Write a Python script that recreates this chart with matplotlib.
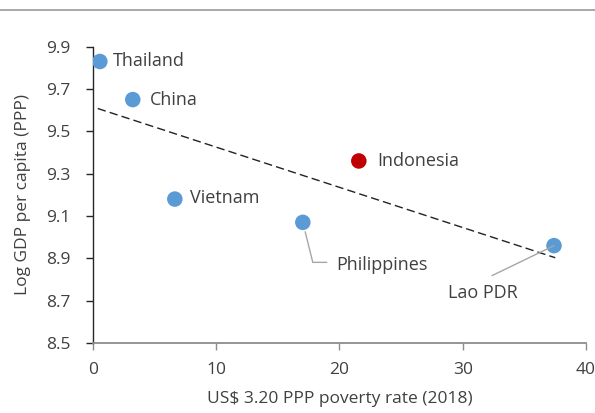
import numpy as np
import matplotlib.pyplot as plt
from matplotlib.lines import Line2D

plt.rcParams['font.family'] = ['Open Sans', 'DejaVu Sans']

# данные
countries = ['Thailand', 'China', 'Vietnam', 'Indonesia', 'Philippines', 'Lao PDR']
poverty = np.array([0.57, 3.24, 6.65, 21.57, 17.03, 37.4])   # US$3.20 PPP poverty rate, %
log_gdp = np.array([9.83, 9.65, 9.18, 9.36, 9.07, 8.96])     # log GDP per capita (PPP)
colors = ['#5B9BD5', '#5B9BD5', '#5B9BD5', '#C00000', '#5B9BD5', '#5B9BD5']

# положение подписей (смещение в пикселях от точки)
label_off = {'Thailand': (13, 0), 'China': (17, 0), 'Vietnam': (15, 1),
             'Indonesia': (18, 0), 'Philippines': (33, -43), 'Lao PDR': (-106, -47)}

txt = '#404040'

fig = plt.figure(figsize=(5.95, 4.13), dpi=100)
ax = fig.add_axes([0.156, 0.1695, 0.829, 0.7175])

# линия тренда
k, b = np.polyfit(poverty, log_gdp, 1)
xs = np.array([poverty.min() - 0.17, poverty.max() + 0.1])
ax.plot(xs, k * xs + b, color='#222222', lw=1.0, dashes=(6, 3), zorder=2)

ax.scatter(poverty, log_gdp, s=125, c=colors, zorder=3, linewidths=0)

for name, x, y in zip(countries, poverty, log_gdp):
    dx, dy = label_off[name]
    ax.annotate(name, (x, y), xytext=(dx, dy), textcoords='offset pixels',
                ha='left', va='center', fontsize=13, color=txt, zorder=5)

# выноски
ax.annotate('', xy=(poverty[4], log_gdp[4]), xytext=(24, -40), textcoords='offset pixels',
            arrowprops=dict(arrowstyle='-', color='#A6A6A6', lw=1.0, shrinkA=0, shrinkB=7,
                            connectionstyle='angle,angleA=0,angleB=-76,rad=0'), zorder=2)
ax.annotate('', xy=(poverty[5], log_gdp[5]), xytext=(-62, -30), textcoords='offset pixels',
            arrowprops=dict(arrowstyle='-', color='#A6A6A6', lw=1.0, shrinkA=0, shrinkB=0),
            zorder=4)

ax.set_xlim(0, 40)
ax.set_ylim(8.5, 9.9)
ax.set_xticks([0, 10, 20, 30, 40])
ax.set_yticks(np.arange(8.5, 9.91, 0.2))
ax.set_yticklabels([f'{v:.1f}' for v in np.arange(8.5, 9.91, 0.2)])

for s in ['top', 'right']:
    ax.spines[s].set_visible(False)
ax.spines['left'].set_color('#262626')
ax.spines['bottom'].set_color('#8C8C8C')
ax.spines['left'].set_linewidth(1.0)
ax.spines['bottom'].set_linewidth(1.3)
ax.tick_params(axis='y', direction='out', length=5, width=1.0, color='#262626',
               pad=11, labelsize=12.5, labelcolor=txt)
ax.tick_params(axis='x', direction='out', length=5, width=1.0, color='#8C8C8C',
               pad=9, labelsize=12.5, labelcolor=txt)

ax.set_xlabel('US$ 3.20 PPP poverty rate (2018)', fontsize=12.5, color=txt, labelpad=9)
ax.set_ylabel('Log GDP per capita (PPP)', fontsize=12.5, color=txt, labelpad=11)

# серая линия сверху
fig.add_artist(Line2D([0, 1], [1 - 10 / 413, 1 - 10 / 413], transform=fig.transFigure,
                      color='#999999', lw=1.2))

fig.savefig('out.png', dpi=100)
